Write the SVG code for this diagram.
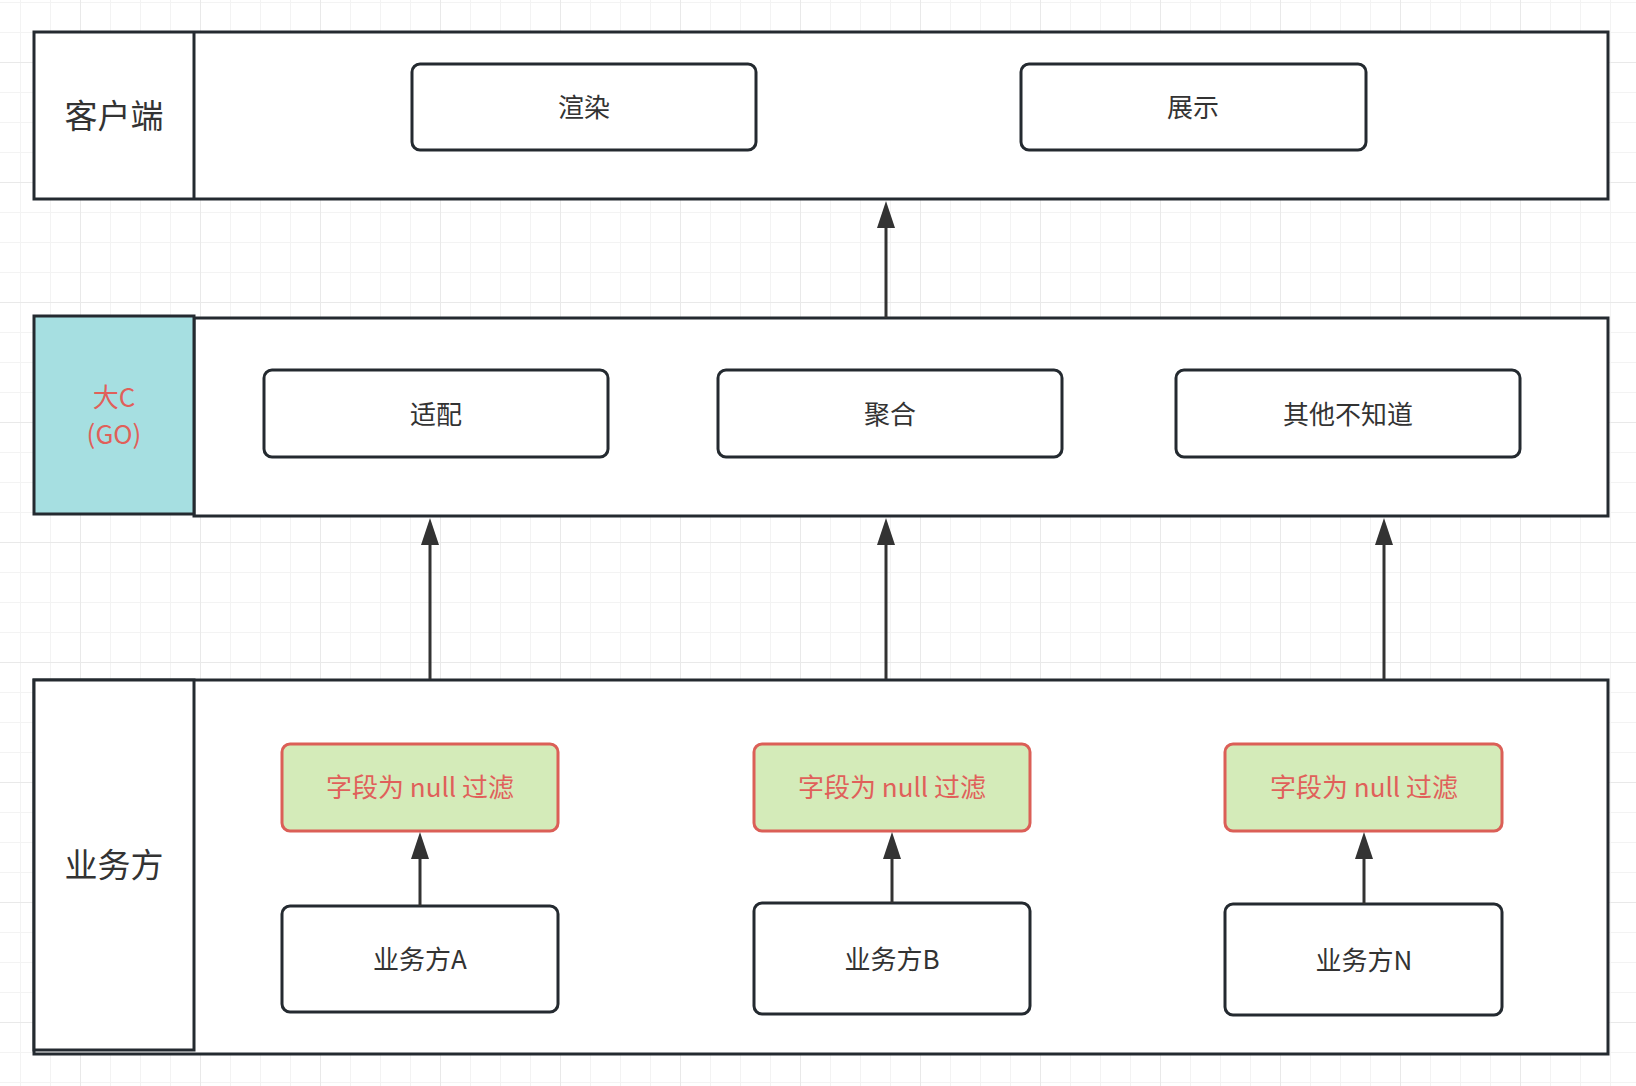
<svg xmlns="http://www.w3.org/2000/svg" width="1636" height="1086" viewBox="0 0 1636 1086">
<style>
.lane{fill:#ffffff;stroke:#242a30;stroke-width:3}
.node{fill:#ffffff;stroke:#242a30;stroke-width:3}
.filter{fill:#d4ebb9;stroke:#db5f57;stroke-width:3}
.t{font-family:"Noto Sans CJK SC","Noto Sans",sans-serif;fill:#333333;text-anchor:middle;dominant-baseline:central}
.big{font-size:33px}
.mid{font-size:26px}
.go{font-size:26px}
.red{fill:#e0605a}
.edge{stroke:#333333;stroke-width:3;fill:none;marker-end:url(#ah)}
</style>
<defs>
<pattern id="grid" patternUnits="userSpaceOnUse" x="80" y="62" width="120" height="120">
<rect x="0" y="0" width="120" height="120" fill="#ffffff"/>
<rect x="30" y="0" width="1" height="120" fill="#f3f3f3"/>
<rect x="60" y="0" width="1" height="120" fill="#f3f3f3"/>
<rect x="90" y="0" width="1" height="120" fill="#f3f3f3"/>
<rect x="0" y="30" width="120" height="1" fill="#f3f3f3"/>
<rect x="0" y="60" width="120" height="1" fill="#f3f3f3"/>
<rect x="0" y="90" width="120" height="1" fill="#f3f3f3"/>
<rect x="0" y="0" width="1" height="120" fill="#e9e9e9"/>
<rect x="0" y="0" width="120" height="1" fill="#e9e9e9"/>
</pattern>
<marker id="ah" markerUnits="userSpaceOnUse" viewBox="0 0 27 18" refX="0" refY="9" markerWidth="27" markerHeight="18" orient="auto">
<path d="M0,0 L27,9 L0,18 z" fill="#333333"/>
</marker>
</defs>
<rect x="0" y="0" width="1636" height="1086" fill="url(#grid)"/>

<g id="lane-client">
<rect class="lane" x="34" y="32" width="1574" height="167"/>
<line x1="194" y1="32" x2="194" y2="199" stroke="#242a30" stroke-width="3"/>
<text class="t big" x="114" y="114">客户端</text>
</g>
<g id="lane-go">
<rect class="lane" x="194" y="318" width="1414" height="198"/>
<rect x="34" y="316" width="160" height="198" fill="#a6dfe1" stroke="#242a30" stroke-width="3"/>
<text class="t go red" x="114" y="395">大C</text>
<text class="t go red" x="114" y="432">(GO)</text>
</g>
<g id="lane-biz">
<rect class="lane" x="34" y="680" width="1574" height="374"/>
<rect x="34" y="680" width="160" height="370" fill="#ffffff" stroke="#242a30" stroke-width="3"/>
<text class="t big" x="114" y="863">业务方</text>
</g>

<g id="n-render"><rect class="node" x="412" y="64" width="344" height="86" rx="8"/><text class="t mid" x="584" y="105">渲染</text></g>
<g id="n-show"><rect class="node" x="1021" y="64" width="345" height="86" rx="8"/><text class="t mid" x="1193" y="105">展示</text></g>

<g id="n-adapt"><rect class="node" x="264" y="370" width="344" height="87" rx="8"/><text class="t mid" x="436" y="412">适配</text></g>
<g id="n-agg"><rect class="node" x="718" y="370" width="344" height="87" rx="8"/><text class="t mid" x="890" y="412">聚合</text></g>
<g id="n-other"><rect class="node" x="1176" y="370" width="344" height="87" rx="8"/><text class="t mid" x="1348" y="412">其他不知道</text></g>

<g id="n-filterA"><rect class="filter" x="282" y="744" width="276" height="87" rx="8"/><text class="t mid red" x="420" y="785" xml:space="preserve">字段为 null 过滤</text></g>
<g id="n-filterB"><rect class="filter" x="754" y="744" width="276" height="87" rx="8"/><text class="t mid red" x="892" y="785" xml:space="preserve">字段为 null 过滤</text></g>
<g id="n-filterN"><rect class="filter" x="1225" y="744" width="277" height="87" rx="8"/><text class="t mid red" x="1364" y="785" xml:space="preserve">字段为 null 过滤</text></g>

<g id="n-bizA"><rect class="node" x="282" y="906" width="276" height="106" rx="8"/><text class="t mid" x="420" y="957">业务方A</text></g>
<g id="n-bizB"><rect class="node" x="754" y="903" width="276" height="111" rx="8"/><text class="t mid" x="892" y="957">业务方B</text></g>
<g id="n-bizN"><rect class="node" x="1225" y="904" width="277" height="111" rx="8"/><text class="t mid" x="1364" y="958">业务方N</text></g>

<g id="connectors">
<line class="edge" x1="886" y1="318" x2="886" y2="228"/>
<line class="edge" x1="430" y1="679" x2="430" y2="545"/>
<line class="edge" x1="886" y1="679" x2="886" y2="545"/>
<line class="edge" x1="1384" y1="679" x2="1384" y2="545"/>
<line class="edge" x1="420" y1="906" x2="420" y2="859"/>
<line class="edge" x1="892" y1="903" x2="892" y2="859"/>
<line class="edge" x1="1364" y1="904" x2="1364" y2="859"/>
</g>
</svg>
